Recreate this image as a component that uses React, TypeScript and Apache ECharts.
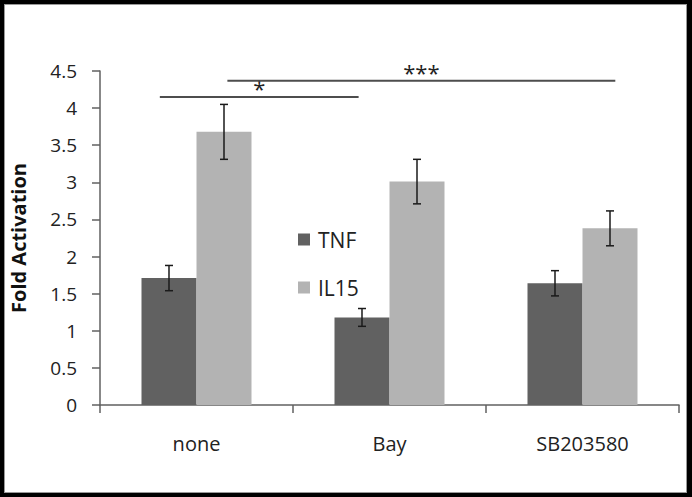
import React, { useEffect, useRef } from "react";
import * as echarts from "echarts";

const categories = ["none", "Bay", "SB203580"];
const seriesNames = ["TNF", "IL15"];
const tnfValues = [1.71, 1.18, 1.64];
const tnfErrors = [0.17, 0.12, 0.17];
const il15Values = [3.68, 3.01, 2.38];
const il15Errors = [0.37, 0.3, 0.235];
const yMin = 0;
const yMax = 4.5;
const yInterval = 0.5;
// significance brackets: start/end as fractional category positions, level in data units
const sigLabels = ["*", "***"];
const sigStart = [-0.19, 0.16];
const sigEnd = [0.84, 2.17];
const sigLevel = [4.15, 4.37];

const FONT = "'Open Sans', 'Noto Sans', sans-serif";
const TNF_COLOR = "#616161";
const IL15_COLOR = "#b3b3b3";

function errorSeries(values: number[], errors: number[], offset: number) {
  return {
    type: "custom",
    silent: true,
    z: 5,
    encode: { x: 0, y: [1, 2] },
    data: values.map((v, i) => [i, v - errors[i], v + errors[i]]),
    renderItem: (params: any, api: any) => {
      const idx = api.value(0);
      const lo = api.coord([idx, api.value(1)]);
      const hi = api.coord([idx, api.value(2)]);
      const band = api.size([1, 0])[0];
      const x = lo[0] + offset * band;
      const cap = 4;
      const style = { stroke: "#1a1a1a", lineWidth: 1.5 };
      return {
        type: "group",
        children: [
          { type: "line", shape: { x1: x, y1: lo[1], x2: x, y2: hi[1] }, style },
          { type: "line", shape: { x1: x - cap, y1: lo[1], x2: x + cap, y2: lo[1] }, style },
          { type: "line", shape: { x1: x - cap, y1: hi[1], x2: x + cap, y2: hi[1] }, style },
        ],
      };
    },
  };
}

export default function App() {
  const ref = useRef<HTMLDivElement>(null);
  useEffect(() => {
    document.body.style.margin = "0";
    if (!ref.current) return;
    const chart = echarts.init(ref.current, null, { renderer: "svg" });
    const groupOffset = (1 - 0.43) / 4;
    chart.setOption({
      animation: false,
      backgroundColor: "#ffffff",
      textStyle: { fontFamily: FONT },
      grid: { left: 100, right: 13, top: 71, bottom: 92, containLabel: false },
      legend: {
        data: seriesNames,
        orient: "vertical",
        left: 293,
        top: 224,
        itemWidth: 12,
        itemHeight: 12,
        itemGap: 27,
        icon: "rect",
        textStyle: { fontFamily: FONT, fontSize: 21, color: "#222", padding: [0, 0, 0, 3] },
      },
      xAxis: {
        type: "category",
        data: categories,
        axisLine: { lineStyle: { color: "#606060", width: 1.5 } },
        axisTick: { show: true, length: 8, lineStyle: { color: "#606060", width: 1.5 } },
        axisLabel: { color: "#222", fontSize: 20, fontFamily: FONT, margin: 28 },
      },
      yAxis: {
        type: "value",
        min: yMin,
        max: yMax,
        interval: yInterval,
        name: "Fold Activation",
        nameLocation: "middle",
        nameGap: 72,
        nameTextStyle: { fontFamily: FONT, fontSize: 20, fontWeight: "bold", color: "#111" },
        axisLine: { show: true, lineStyle: { color: "#606060", width: 1.5 } },
        axisTick: { show: true, length: 8, lineStyle: { color: "#606060", width: 1.5 } },
        splitLine: { show: false },
        axisLabel: { color: "#222", fontSize: 19, fontFamily: FONT, margin: 23 },
      },
      series: [
        {
          name: "TNF",
          type: "bar",
          data: tnfValues,
          barGap: "0%",
          barCategoryGap: "43%",
          itemStyle: { color: TNF_COLOR },
        },
        {
          name: "IL15",
          type: "bar",
          data: il15Values,
          barGap: "0%",
          barCategoryGap: "43%",
          itemStyle: { color: IL15_COLOR },
        },
        errorSeries(tnfValues, tnfErrors, -groupOffset),
        errorSeries(il15Values, il15Errors, groupOffset),
        {
          type: "custom",
          silent: true,
          z: 6,
          clip: false,
          encode: { x: 0, y: 1 },
          data: sigLabels.map((_, i) => [0, sigLevel[i], sigStart[i], sigEnd[i]]),
          renderItem: (params: any, api: any) => {
            const p0 = api.coord([api.value(0), api.value(1)]);
            const band = api.size([1, 0])[0];
            const x1 = p0[0] + api.value(2) * band;
            const x2 = p0[0] + api.value(3) * band;
            const y = p0[1];
            return {
              type: "group",
              children: [
                { type: "line", shape: { x1, y1: y, x2, y2: y }, style: { stroke: "#4d4d4d", lineWidth: 2 } },
                {
                  type: "text",
                  x: (x1 + x2) / 2,
                  y: y + 2,
                  style: {
                    text: sigLabels[params.dataIndex],
                    fontFamily: FONT,
                    fontSize: 22,
                    fill: "#222",
                    align: "center",
                    verticalAlign: "bottom",
                  },
                },
              ],
            };
          },
        },
      ],
    });
    return () => chart.dispose();
  }, []);
  return (
    <div style={{ position: "relative", width: 692, height: 497 }}>
      <div ref={ref} style={{ width: 692, height: 497 }} />
      <div
        style={{
          position: "absolute",
          left: 0,
          top: 0,
          width: 692,
          height: 497,
          boxSizing: "border-box",
          borderStyle: "solid",
          borderColor: "#000",
          borderWidth: "4px 5px 4px 4px",
          boxShadow: "inset 0 0 0 1px #999",
          pointerEvents: "none",
        }}
      />
    </div>
  );
}
